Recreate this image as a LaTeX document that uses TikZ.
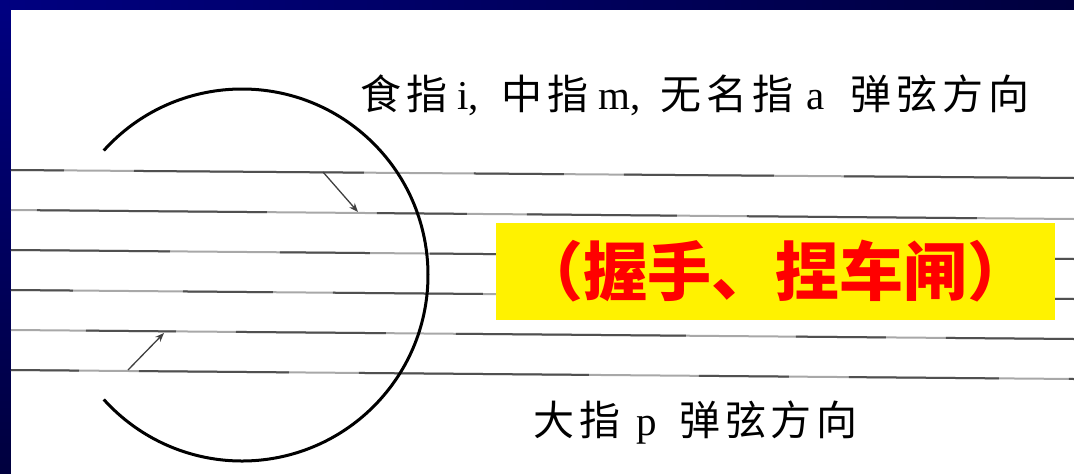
\documentclass[tikz,border=0pt]{standalone}
\usepackage{fontspec}
\setmainfont{Liberation Serif}
\newfontfamily\cjk[LetterSpace=12]{Noto Sans CJK SC}
\newfontfamily\cjkred{Noto Sans CJK SC}
\usetikzlibrary{arrows.meta}
\definecolor{slideblue}{RGB}{0,0,128}
\definecolor{slidedark}{RGB}{0,0,62}
\definecolor{stringgray}{RGB}{80,80,80}
\definecolor{stringlight}{RGB}{168,168,168}
\tikzset{
    stringline/.style = {
        draw=stringlight,
        line width=2pt
    },
    stringdark/.style = {
        draw=stringgray,
        line width=2pt,
        dash pattern=on 150pt off 70pt on 230pt off 110pt on 90pt off 60pt
    },
    pluck/.style = {
        -{Stealth[length=9pt,width=7pt]},
        draw=black!75,
        line width=1.3pt
    },
    fingertext/.style = {
        font=\fontsize{41}{41}\selectfont,
        inner sep=0pt
    },
    notebox/.style = {
        rectangle,
        fill=yellow,
        text=red,
        minimum width=559pt,
        minimum height=97pt,
        inner sep=0pt,
        font=\cjkred\bfseries\fontsize{64}{64}\selectfont
    }
}

\begin{document}
\begin{tikzpicture}[x=1pt,y=-1pt]
% slide frame
\useasboundingbox (0,0) rectangle (1074,474);
\shade[left color=slideblue,right color=slidedark] (0,0) rectangle (1074,10);
\shade[top color=slideblue,bottom color=slidedark] (0,10) rectangle (11,474);
\fill[white] (11,10) rectangle (1074,474);

% strings
\foreach \yl/\yr [count=\n] in {170/178,210/219,250/259,290/299,330/339,370/379}{
    \draw[stringline] (11,\yl) -- (1074,\yr);
    \draw[stringdark,dash phase=\n*97pt] (11,\yl) -- (1074,\yr);
}

% hand circle
\coordinate (ring) at (242,275);
\draw[line width=3pt] (ring) ++(-138:186) arc[start angle=-138,end angle=138,radius=186];

% plucking arrows
\coordinate (ima0) at (323,172);
\coordinate (ima1) at (358,212);
\coordinate (p0) at (128,370);
\coordinate (p1) at (164,333);
\draw[pluck] (ima0) -- (ima1);
\draw[pluck] (p0) -- (p1);

% labels
\node (ima) [fingertext,anchor=west] at (360,95)
    {{\cjk 食指} i,\hspace{12pt} {\cjk 中指} m,\hspace{10pt} {\cjk 无名指}\hspace{3pt} a\hspace{15pt} {\cjk 弹弦方向}};
\node (thumb) [fingertext,anchor=west] at (533,423)
    {{\cjk 大指}\hspace{6pt} p\hspace{12pt} {\cjk 弹弦方向}};
\node (brake) [notebox] at (775.5,271.5) {（握手、捏车闸）};
\end{tikzpicture}
\end{document}
